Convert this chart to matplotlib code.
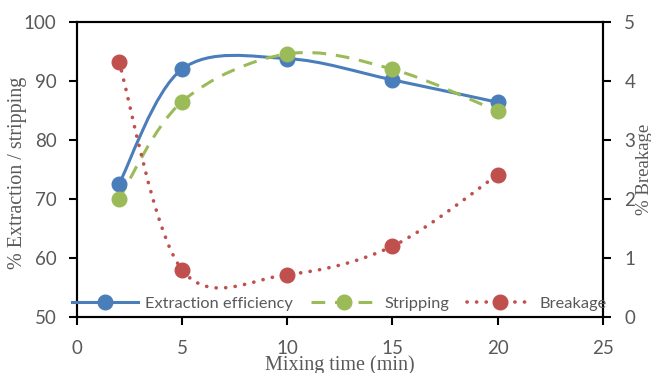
import matplotlib
matplotlib.use("Agg")
import matplotlib.pyplot as plt
import numpy as np
from matplotlib.path import Path
from matplotlib.patches import PathPatch
from matplotlib.lines import Line2D

# Data
mixing_time = [2, 5, 10, 15, 20]
extraction = [72.5, 92.0, 93.8, 90.2, 86.4]
stripping = [70.0, 86.5, 94.6, 92.0, 84.9]
breakage = [4.33, 0.80, 0.72, 1.20, 2.41]

blue = "#4A7EBB"
green = "#9BBB59"
red = "#C0504D"
tick_grey = "#595959"


def smooth_path(xs, ys):
    # Excel-like smoothed line: cubic Bezier segments with Catmull-Rom tangents
    pts = np.column_stack([xs, ys]).astype(float)
    n = len(pts)
    verts = [pts[0]]
    codes = [Path.MOVETO]
    for i in range(n - 1):
        p_prev = pts[i - 1] if i > 0 else pts[i]
        p_next2 = pts[i + 2] if i + 2 < n else pts[i + 1]
        c1 = pts[i] + (pts[i + 1] - p_prev) / 6.0
        c2 = pts[i + 1] - (p_next2 - pts[i]) / 6.0
        verts += [c1, c2, pts[i + 1]]
        codes += [Path.CURVE4] * 3
    return Path(verts, codes)


fig = plt.figure(figsize=(6.51, 3.73), dpi=100)
ax = fig.add_axes([0.118, 0.150, 0.808, 0.791])
ax2 = ax.twinx()

lw = 2.2
ms = 10.5
dash_style = (0, (4.5, 3.2))
dot_style = (0, (0.05, 2.6))

# Left axis series
ax.add_patch(PathPatch(smooth_path(mixing_time, extraction), fill=False,
                       edgecolor=blue, lw=lw, zorder=2))
ax.add_patch(PathPatch(smooth_path(mixing_time, stripping), fill=False,
                       edgecolor=green, lw=lw, linestyle=dash_style, zorder=3))
ax.plot(mixing_time, extraction, ls="none", marker="o", ms=ms, color=blue, zorder=4)
ax.plot(mixing_time, stripping, ls="none", marker="o", ms=ms, color=green, zorder=5)

# Right axis series
ax2.add_patch(PathPatch(smooth_path(mixing_time, breakage), fill=False,
                        edgecolor=red, lw=2.6, linestyle=dot_style,
                        capstyle="round", zorder=2))
ax2.plot(mixing_time, breakage, ls="none", marker="o", ms=ms, color=red, zorder=3)

ax.set_xlim(0, 25)
ax.set_ylim(50, 100)
ax2.set_ylim(0, 5)
ax.set_xticks([0, 5, 10, 15, 20, 25])
ax.set_yticks([50, 60, 70, 80, 90, 100])
ax2.set_yticks([0, 1, 2, 3, 4, 5])

for a in (ax, ax2):
    for s in a.spines.values():
        s.set_linewidth(1.5)
        s.set_color("black")
    a.tick_params(labelsize=13.5, labelcolor=tick_grey, width=1.5, length=5.5,
                  direction="out")
    for lab in a.get_xticklabels() + a.get_yticklabels():
        lab.set_family("Lato")
ax.tick_params(axis="x", pad=11)
ax.tick_params(axis="y", pad=9)
ax2.tick_params(axis="y", pad=10)

ax.set_ylabel("% Extraction / stripping", family="Liberation Serif",
              fontsize=14.5, color=tick_grey, va="center")
ax.yaxis.set_label_coords(-0.113, 0.49)
ax2.set_ylabel("% Breakage", family="Liberation Serif", fontsize=13.5,
               color=tick_grey, va="center")
ax2.yaxis.set_label_coords(1.079, 0.5)
ax.set_xlabel("Mixing time (min)", family="Liberation Serif", fontsize=14.5,
              color=tick_grey, va="center")
ax.xaxis.set_label_coords(0.5, -0.162)

handles = [
    Line2D([], [], color=blue, lw=lw, marker="o", ms=ms),
    Line2D([], [], color=green, lw=lw, ls=dash_style, marker="o", ms=ms),
    Line2D([], [], color=red, lw=2.6, ls=dot_style, dash_capstyle="round",
           marker="o", ms=ms),
]
leg = ax2.legend(handles, ["Extraction efficiency", "Stripping", "Breakage"],
                 loc="center", bbox_to_anchor=(0.5, 0.045), ncol=3,
                 frameon=False, handlelength=4.0, columnspacing=1.1,
                 handletextpad=0.45, borderaxespad=0,
                 prop={"family": "Lato", "size": 11.8})
for t in leg.get_texts():
    t.set_color(tick_grey)

fig.savefig("out.png", dpi=100)
